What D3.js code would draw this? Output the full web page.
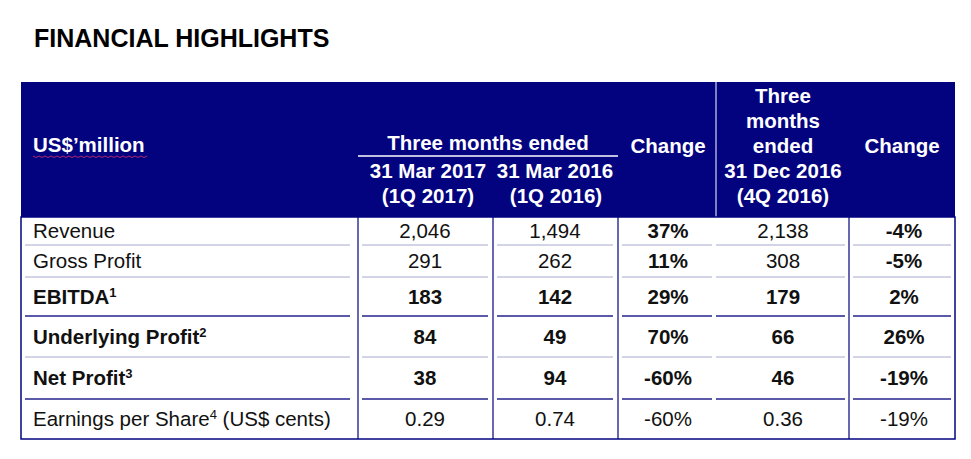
<!DOCTYPE html>
<html><head><meta charset="utf-8">
<script src="https://cdn.jsdelivr.net/npm/d3@7"></script>
<style>body{margin:0;background:#fff}text{font-family:"Liberation Sans",Arial,sans-serif}</style>
</head><body><svg id="chart" width="971" height="459"></svg>
<script>
const rowLabels = ["Revenue", "Gross Profit", "EBITDA", "Underlying Profit", "Net Profit", "Earnings per Share"];
const rowSup = ["", "", "1", "2", "3", "4"];
const rowSuffix = ["", "", "", "", "", " (US$ cents)"];
const rowBold = [false, false, true, true, true, false];
const q1_2017 = ["2,046", "291", "183", "84", "38", "0.29"];
const q1_2016 = ["1,494", "262", "142", "49", "94", "0.74"];
const changeYoY = ["37%", "11%", "29%", "70%", "-60%", "-60%"];
const q4_2016 = ["2,138", "308", "179", "66", "46", "0.36"];
const changeQoQ = ["-4%", "-5%", "2%", "26%", "-19%", "-19%"];
const changeBold = [true, true, true, true, true, false];

const svg = d3.select("#chart");
const navy = "#03037f";
const rowEdges = [217, 245, 277, 316, 357, 399, 439];
const y = d3.scaleOrdinal().domain(d3.range(6)).range(rowEdges.slice(0, 6));
const rowH = i => rowEdges[i + 1] - rowEdges[i];
const FS = 20.5;

svg.append("text").attr("x", 34).attr("y", 47).attr("font-size", 25).attr("font-weight", "bold").text("FINANCIAL HIGHLIGHTS");

// header
svg.append("rect").attr("x", 21).attr("y", 82).attr("width", 934).attr("height", 135).attr("fill", navy);
svg.append("line").attr("x1", 716).attr("x2", 716).attr("y1", 82).attr("y2", 217).attr("stroke", "#fff").attr("stroke-width", 1);
svg.append("line").attr("x1", 358).attr("x2", 618).attr("y1", 156).attr("y2", 156).attr("stroke", "#fff").attr("stroke-width", 1.5);
const hd = (t, cx, cy, anchor = "middle") => svg.append("text").attr("x", cx).attr("y", cy)
  .attr("text-anchor", anchor).attr("fill", "#fff").attr("font-weight", "bold").attr("font-size", FS).text(t);
hd("US$’million", 33, 152, "start");
svg.append("path").attr("fill", "none").attr("stroke", "#e0306a").attr("stroke-width", 0.8)
  .attr("d", d3.range(33, 149, 3).map((v, i) => (i ? "L" : "M") + v + "," + (156 + (i % 2 ? 1.5 : 0))).join(""));
hd("Three months ended", 488, 150);
hd("31 Mar  2017", 428, 178); hd("(1Q 2017)", 428, 203);
hd("31 Mar 2016", 555, 178); hd("(1Q 2016)", 556, 203);
hd("Change", 668, 153);
hd("Three", 783, 103); hd("months", 783, 128); hd("ended", 783, 153);
hd("31 Dec  2016", 783, 178); hd("(4Q 2016)", 783, 203);
hd("Change", 902, 153);

// body
rowLabels.forEach((lab, r) => {
  const cy = y(r) + rowH(r) / 2 + 7;
  const t = svg.append("text").attr("x", 33).attr("y", cy).attr("font-size", FS)
    .attr("font-weight", rowBold[r] ? "bold" : "normal").attr("fill", "#111");
  t.append("tspan").text(lab);
  if (rowSup[r]) t.append("tspan").attr("font-size", 13).attr("dy", -7).text(rowSup[r]);
  if (rowSuffix[r]) t.append("tspan").attr("dy", 7).text(rowSuffix[r]);
  const vals = [q1_2017[r], q1_2016[r], changeYoY[r], q4_2016[r], changeQoQ[r]];
  const centers = [425, 555, 668, 783, 904];
  vals.forEach((v, i) => {
    const bold = (i === 2 || i === 4) ? changeBold[r] : rowBold[r];
    svg.append("text").attr("x", centers[i]).attr("y", cy).attr("text-anchor", "middle")
      .attr("font-size", FS).attr("font-weight", bold ? "bold" : "normal").attr("fill", "#111").text(v);
  });
  if (r < 5) {
    const heavy = r === 2 || r === 4;
    const segs = [[25, 350], [362, 488], [497, 613], [622, 712], [716, 845], [853, 951]];
    segs.forEach(s => svg.append("line").attr("x1", s[0]).attr("x2", s[1])
      .attr("y1", rowEdges[r + 1]).attr("y2", rowEdges[r + 1])
      .attr("stroke", heavy ? "#5a5aa8" : "#a8a8d0").attr("stroke-width", heavy ? 2 : 1));
  }
});
// body borders
svg.append("rect").attr("x", 21).attr("y", 217).attr("width", 934).attr("height", 222)
  .attr("fill", "none").attr("stroke", navy).attr("stroke-width", 1.5);
[358, 493, 618, 849].forEach(v => svg.append("line").attr("x1", v).attr("x2", v)
  .attr("y1", 217).attr("y2", 439).attr("stroke", navy).attr("stroke-width", 1.2));
</script></body></html>
